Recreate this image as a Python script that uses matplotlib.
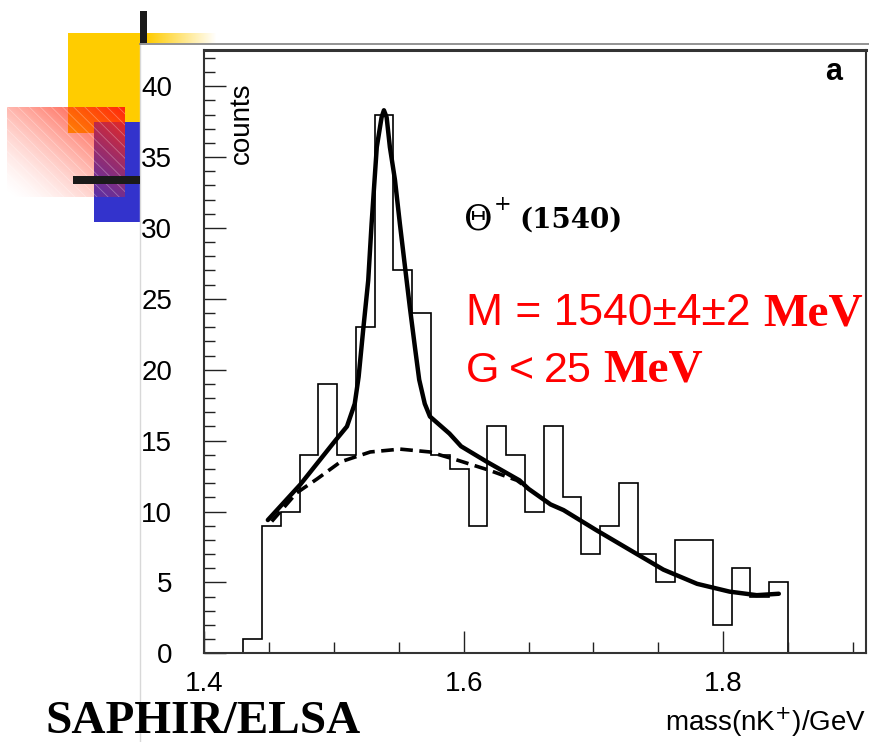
import numpy as np
import matplotlib
matplotlib.use("Agg")
import matplotlib.pyplot as plt
from matplotlib.patches import Rectangle

# histogram: 29 bins between 1.43 and 1.85 GeV
bin_lo, bin_hi = 1.43, 1.85
counts = [1, 9, 10, 14, 19, 14, 23, 38, 27, 24,
          14, 13, 9, 16, 14, 10, 16, 11, 7, 9,
          12, 7, 5, 8, 8, 2, 6, 4, 5]

# full fit (signal + background)
fit_x = [1.449, 1.474, 1.501, 1.510, 1.516, 1.519, 1.5225, 1.5264, 1.529, 1.533,
         1.5367, 1.5385, 1.5406, 1.5431, 1.547, 1.5508, 1.5547, 1.5585, 1.5624, 1.5657,
         1.570, 1.574, 1.589, 1.598, 1.618, 1.643, 1.650, 1.667, 1.677, 1.702,
         1.728, 1.754, 1.780, 1.805, 1.826, 1.843]
fit_y = [9.4, 11.9, 15.0, 16.0, 17.6, 19.5, 22.8, 26.3, 30.3, 35.7,
         37.8, 38.3, 37.8, 35.7, 33.4, 30.3, 27.3, 24.4, 21.6, 19.3,
         17.6, 16.7, 15.5, 14.6, 13.5, 12.2, 11.6, 10.5, 10.1, 8.7,
         7.3, 5.9, 4.9, 4.35, 4.1, 4.2]

# background only (dashed)
bg_x = [1.452, 1.471, 1.487, 1.505, 1.528, 1.551, 1.574, 1.596, 1.620, 1.641, 1.650]
bg_y = [9.3, 11.3, 12.3, 13.5, 14.2, 14.4, 14.2, 13.6, 12.9, 12.2, 11.6]

W, H = 869, 742
fig = plt.figure(figsize=(W / 100, H / 100), dpi=100)

# slide decoration, drawn in pixel coordinates
deco = fig.add_axes([0, 0, 1, 1], zorder=0)
deco.axis("off")

deco.add_patch(Rectangle((68, 33), 72, 100, color="#FFCC00", lw=0))
deco.add_patch(Rectangle((94, 122), 46, 100, color="#3333CC", lw=0))

gw, gh = 118, 90
u = np.linspace(0, 1, gw)[None, :]
v = np.linspace(1, 0, gh)[:, None]
t = (u + v) / 2
red = np.zeros((gh, gw, 4))
red[..., 0] = 1.0
red[..., 1] = 0.15
red[..., 2] = 0.05
red[..., 3] = t ** 1.6
deco.imshow(red, extent=(7, 125, 197, 107), aspect="auto", interpolation="bilinear", zorder=2)
plt.rcParams["hatch.linewidth"] = 0.6
deco.add_patch(Rectangle((7, 107), 118, 90, facecolor="none", edgecolor=(1, 1, 1, 0.3),
                         hatch="\\\\\\", lw=0, zorder=3))

deco.add_patch(Rectangle((73, 176), 67, 8, color="#1a1a1a", lw=0, zorder=4))
deco.add_patch(Rectangle((140, 11), 7, 32, color="#1a1a1a", lw=0, zorder=4))

yb = np.ones((1, 70, 4))
yb[..., 0] = 1.0
yb[..., 1] = 0.8
yb[..., 2] = 0.0
yb[..., 3] = np.linspace(1, 0, 70)
deco.imshow(yb, extent=(147, 217, 43, 33), aspect="auto", interpolation="bilinear", zorder=2)
deco.plot([140, 869], [43.5, 43.5], color="#808080", lw=1.2, zorder=2)
deco.plot([139.5, 139.5], [43, 742], color="#d8d8d8", lw=1.0, zorder=1)

deco.set_xlim(0, W)
deco.set_ylim(H, 0)

# main plot
x0, x1, y0, y1 = 204.3, 865.7, 50, 653.3
ax = fig.add_axes([x0 / W, 1 - y1 / H, (x1 - x0) / W, (y1 - y0) / H], zorder=2)
edges = np.linspace(bin_lo, bin_hi, len(counts) + 1)
ax.stairs(counts, edges, baseline=0, color="black", lw=1.2)
ax.plot(bg_x, bg_y, color="black", lw=2.6, ls=(0, (3.5, 1.8)))
ax.plot(fit_x, fit_y, color="black", lw=3.2, solid_capstyle="round")

ax.set_xlim(1.4, 1.91)
ax.set_ylim(0, 42.55)
ax.set_xticks([1.4, 1.6, 1.8])
ax.set_xticklabels(["1.4", "1.6", "1.8"])
ax.set_xticks(np.arange(1.45, 1.91, 0.05), minor=True)
ax.set_yticks(range(0, 41, 5))
ax.set_yticks(range(0, 43), minor=True)
ax.tick_params(which="both", direction="in", width=1.0, color="#222222",
               labelsize=20, top=False, right=False)
ax.tick_params(which="major", length=16)
ax.tick_params(which="minor", length=8)
ax.tick_params(axis="y", which="major", pad=23)
ax.tick_params(axis="x", which="major", pad=13)
for lab in ax.get_xticklabels() + ax.get_yticklabels():
    lab.set_fontfamily("Liberation Sans")
for s in ax.spines.values():
    s.set_linewidth(1.5)
    s.set_color("#333333")
ax.spines["top"].set_linewidth(2.2)

# texts on a transparent overlay (pixel coordinates)
txt = fig.add_axes([0, 0, 1, 1], zorder=3)
txt.axis("off")
txt.patch.set_alpha(0)
txt.set_xlim(0, W)
txt.set_ylim(H, 0)

txt.text(242, 123, "counts", rotation=90, ha="center", va="center",
         fontsize=20, family="Liberation Sans")
txt.text(834, 80, "a", ha="center", va="baseline", fontsize=22,
         fontweight="bold", family="Liberation Sans")
txt.text(464, 229, "Θ", ha="left", va="baseline", fontsize=25,
         family="DejaVu Serif")
txt.text(494, 210, "+", ha="left", va="baseline", fontsize=15,
         family="DejaVu Serif")
txt.text(519, 228, "(1540)", ha="left", va="baseline", fontsize=20,
         fontweight="bold", family="DejaVu Serif")
txt.text(466, 325, "M = 1540±4±2", ha="left", va="baseline", fontsize=32,
         color="red", family="Liberation Sans")
txt.text(763, 325, "MeV", ha="left", va="baseline", fontsize=34,
         color="red", fontweight="bold", family="Liberation Serif")
for s, xp in [("G", 466), ("<", 509), ("25", 544)]:
    txt.text(xp, 382, s, ha="left", va="baseline", fontsize=31,
             color="red", family="Liberation Sans")
txt.text(603, 382, "MeV", ha="left", va="baseline", fontsize=34,
         color="red", fontweight="bold", family="Liberation Serif")
txt.text(866, 731, r"mass(nK$^{+}$)/GeV", ha="right", va="baseline", fontsize=20,
         family="Liberation Sans")
txt.text(45, 733, "SAPHIR/ELSA", ha="left", va="baseline", fontsize=34,
         fontweight="bold", family="Liberation Serif")

fig.savefig("out.png", dpi=100)
